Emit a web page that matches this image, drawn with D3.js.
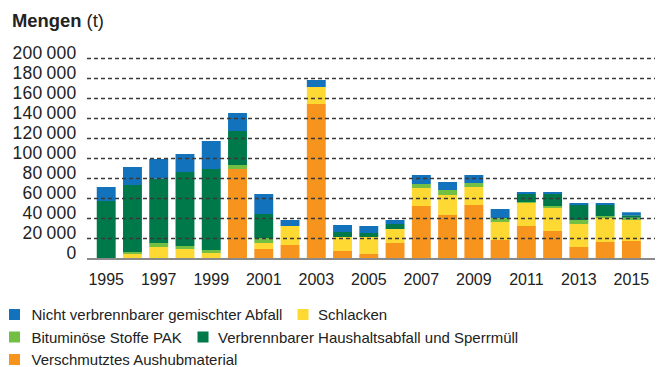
<!DOCTYPE html>
<html>
<head>
<meta charset="utf-8">
<script src="https://cdn.jsdelivr.net/npm/d3@7"></script>
<style>
  html, body { margin: 0; padding: 0; background: #fff; }
  svg { display: block; font-family: "Liberation Sans", Arial, Helvetica, sans-serif; }
</style>
</head>
<body>
<svg id="chart" width="670" height="367"></svg>
<script>
// Waste quantities per year, tonnes
const years = [1995, 1996, 1997, 1998, 1999, 2000, 2001, 2002, 2003, 2004, 2005,
               2006, 2007, 2008, 2009, 2010, 2011, 2012, 2013, 2014, 2015];

const aushub      = [0, 0, 0, 0, 0, 89300, 9300, 13300, 154300, 7300, 4300,
                     15300, 52300, 43300, 53300, 18300, 32300, 27300, 11300, 16300, 17300];
const schlacken   = [0, 4300, 11300, 9300, 5300, 0, 6000, 19000, 17000, 14000, 17000,
                     14000, 18000, 20000, 18000, 18000, 23000, 23000, 23000, 24000, 21000];
const bitumen     = [0, 2000, 4000, 3000, 3000, 4000, 5000, 0, 0, 0, 0,
                     0, 4000, 5000, 4000, 4000, 1000, 2000, 4000, 2000, 2300];
const brennbar    = [57300, 67000, 64300, 74000, 81000, 34000, 24000, 0, 0, 5000, 4000,
                     5000, 0, 0, 0, 0, 8000, 12000, 15000, 11000, 2400];
const nichtBrennb = [14000, 18000, 19700, 18000, 28000, 18000, 20000, 6000, 7000, 7000, 7000,
                     4000, 9000, 8000, 8000, 9000, 2000, 2000, 2000, 2000, 3000];

const yTicks = [0, 20000, 40000, 60000, 80000, 100000, 120000, 140000, 160000, 180000, 200000];
const yearLabels = [1995, 1997, 1999, 2001, 2003, 2005, 2007, 2009, 2011, 2013, 2015];

// Stack order, bottom to top
const seriesKeys = ["aushub", "schlacken", "bitumen", "brennbar", "nichtBrennb"];
const seriesData = { aushub, schlacken, bitumen, brennbar, nichtBrennb };
const colors = {
  aushub: "#f7941d",
  schlacken: "#ffd933",
  bitumen: "#72bf44",
  brennbar: "#00794a",
  nichtBrennb: "#1272bb"
};

const legendItems = [
  { key: "nichtBrennb", label: "Nicht verbrennbarer gemischter Abfall", x: 9, textX: 31.5, row: 0 },
  { key: "schlacken",   label: "Schlacken", x: 297.5, textX: 318, row: 0 },
  { key: "bitumen",     label: "Bituminöse Stoffe PAK", x: 9, textX: 31.5, row: 1 },
  { key: "brennbar",    label: "Verbrennbarer Haushaltsabfall und Sperrmüll", x: 197.5, textX: 218, row: 1 },
  { key: "aushub",      label: "Verschmutztes Aushubmaterial", x: 9, textX: 31.5, row: 2 }
];

const rows = years.map((y, i) => {
  const r = { year: y };
  seriesKeys.forEach(k => r[k] = seriesData[k][i]);
  return r;
});

const svg = d3.select("#chart");

const x = d3.scaleBand()
  .domain(years)
  .range([89.4, 648.2])
  .padding(0.28);

const y = d3.scaleLinear()
  .domain([0, 200000])
  .range([258.3, 58.3]);

const stacked = d3.stack().keys(seriesKeys)(rows);

// Bars
svg.append("g")
  .selectAll("g")
  .data(stacked)
  .join("g")
  .attr("fill", d => colors[d.key])
  .selectAll("rect")
  .data(d => d)
  .join("rect")
  .attr("x", d => x(d.data.year))
  .attr("width", x.bandwidth())
  .attr("y", d => y(d[1]))
  .attr("height", d => Math.max(0, y(d[0]) - y(d[1])));

// Dashed grid lines, drawn over the bars
const gridX0 = 87, gridX1 = 655;
svg.append("g")
  .selectAll("line")
  .data(yTicks.filter(t => t > 0))
  .join("line")
  .attr("x1", gridX0).attr("x2", gridX1)
  .attr("y1", d => Math.round(y(d)) + 0.5)
  .attr("y2", d => Math.round(y(d)) + 0.5)
  .attr("stroke", "#3a3a3a")
  .attr("stroke-width", 1.3)
  .attr("stroke-dasharray", "4,3");

// Baseline
svg.append("line")
  .attr("x1", gridX0).attr("x2", gridX1)
  .attr("y1", y(0) + 0.7).attr("y2", y(0) + 0.7)
  .attr("stroke", "#8a8a8a")
  .attr("stroke-width", 2.2);

// Y axis labels, thousands separated by a narrow space
const fmt = v => d3.format(",")(v).replace(/,/g, "\u2009");
svg.append("g")
  .selectAll("text")
  .data(yTicks)
  .join("text")
  .attr("x", 76.5)
  .attr("y", d => y(d) + 0.5)
  .attr("text-anchor", "end")
  .attr("font-size", 17.5)
  .attr("letter-spacing", 0.3)
  .attr("fill", "#222")
  .text(fmt);

// X axis labels
const xAxis = d3.axisBottom(x)
  .tickValues(yearLabels)
  .tickSize(0)
  .tickPadding(0);
const gx = svg.append("g")
  .attr("transform", `translate(0, ${y(0)})`)
  .call(xAxis);
gx.select(".domain").remove();
gx.selectAll("text")
  .attr("font-family", null)
  .attr("font-size", 16)
  .attr("fill", "#222")
  .attr("dy", null)
  .attr("y", 26.3);

// Title
const title = svg.append("text")
  .attr("x", 12)
  .attr("y", 26.7)
  .attr("font-size", 18.4)
  .attr("fill", "#222");
title.append("tspan").attr("font-weight", "bold").text("Mengen");
title.append("tspan").text(" (t)");

// Legend
const rowY = [314.5, 337, 359.5];
const lg = svg.append("g");
legendItems.forEach(it => {
  lg.append("rect")
    .attr("x", it.x)
    .attr("y", rowY[it.row] - 5.5)
    .attr("width", 11)
    .attr("height", 11)
    .attr("fill", colors[it.key]);
  lg.append("text")
    .attr("x", it.textX)
    .attr("y", rowY[it.row] + 5.5)
    .attr("font-size", 15)
    .attr("fill", "#222")
    .text(it.label);
});
</script>
</body>
</html>
